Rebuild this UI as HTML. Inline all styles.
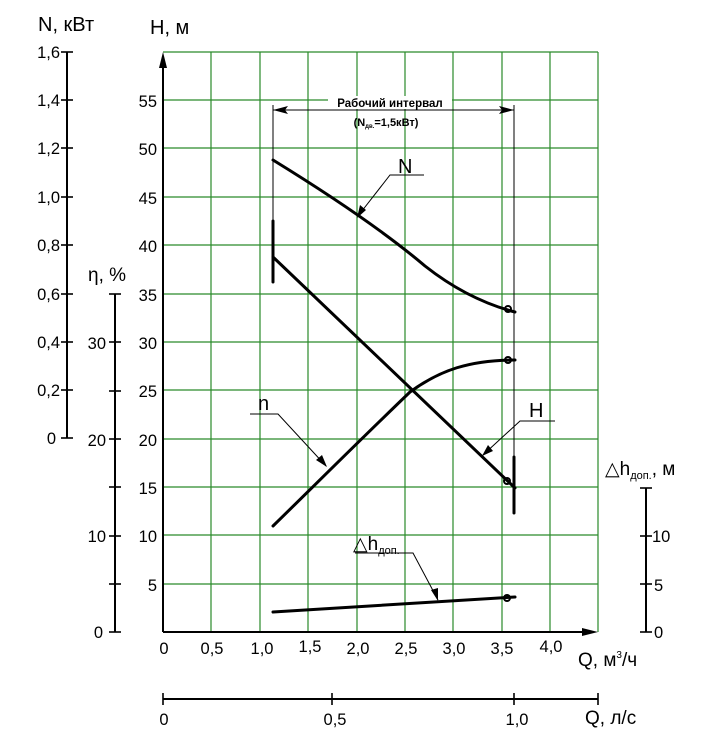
<!DOCTYPE html>
<html><head><meta charset="utf-8"><style>
html,body{margin:0;padding:0;background:#fff;}
svg{display:block;font-family:"Liberation Sans",sans-serif;}
</style></head><body>
<svg width="724" height="751" viewBox="0 0 724 751" xmlns="http://www.w3.org/2000/svg">
<g stroke="#2a8a2a" stroke-width="1.2" fill="none">
<line x1="211" y1="52" x2="211" y2="632"/><line x1="260" y1="52" x2="260" y2="632"/>
<line x1="308" y1="52" x2="308" y2="632"/><line x1="357" y1="52" x2="357" y2="632"/>
<line x1="405" y1="52" x2="405" y2="632"/><line x1="453" y1="52" x2="453" y2="632"/>
<line x1="502" y1="52" x2="502" y2="632"/><line x1="550" y1="52" x2="550" y2="632"/>
<line x1="598" y1="52" x2="598" y2="632"/>
<line x1="163" y1="52" x2="598" y2="52"/><line x1="163" y1="100" x2="598" y2="100"/>
<line x1="163" y1="148" x2="598" y2="148"/><line x1="163" y1="197" x2="598" y2="197"/>
<line x1="163" y1="245" x2="598" y2="245"/><line x1="163" y1="294" x2="598" y2="294"/>
<line x1="163" y1="342" x2="598" y2="342"/><line x1="163" y1="390" x2="598" y2="390"/>
<line x1="163" y1="439" x2="598" y2="439"/><line x1="163" y1="487" x2="598" y2="487"/>
<line x1="163" y1="535" x2="598" y2="535"/><line x1="163" y1="584" x2="598" y2="584"/>
</g>
<g stroke="#000" stroke-width="2" fill="none">
<line x1="163" y1="632" x2="163" y2="60"/>
<line x1="163" y1="632" x2="590" y2="632"/>
<line x1="67" y1="52" x2="67" y2="438"/>
<line x1="115" y1="294" x2="115" y2="632"/>
<line x1="646" y1="488" x2="646" y2="632"/>
<line x1="163" y1="699" x2="598" y2="699"/>
</g>
<path d="M163,52 L159,68 L167,68 Z" fill="#000"/>
<path d="M598,632 L582,628 L582,636 Z" fill="#000"/>
<g stroke="#000" stroke-width="1.6">
<line x1="61" y1="52" x2="73" y2="52"/><line x1="61" y1="100" x2="73" y2="100"/><line x1="61" y1="148" x2="73" y2="148"/>
<line x1="61" y1="197" x2="73" y2="197"/><line x1="61" y1="245" x2="73" y2="245"/><line x1="61" y1="294" x2="73" y2="294"/>
<line x1="61" y1="342" x2="73" y2="342"/><line x1="61" y1="390" x2="73" y2="390"/><line x1="61" y1="438" x2="73" y2="438"/>
<line x1="109" y1="294" x2="121" y2="294"/><line x1="109" y1="342" x2="121" y2="342"/><line x1="109" y1="391" x2="121" y2="391"/>
<line x1="109" y1="439" x2="121" y2="439"/><line x1="109" y1="487" x2="121" y2="487"/><line x1="109" y1="536" x2="121" y2="536"/>
<line x1="109" y1="584" x2="121" y2="584"/><line x1="109" y1="632" x2="121" y2="632"/>
<line x1="640" y1="488" x2="652" y2="488"/><line x1="640" y1="536" x2="652" y2="536"/>
<line x1="640" y1="584" x2="652" y2="584"/><line x1="640" y1="632" x2="652" y2="632"/>
<line x1="163" y1="693" x2="163" y2="705"/><line x1="332" y1="693" x2="332" y2="705"/>
<line x1="514" y1="693" x2="514" y2="705"/><line x1="598" y1="693" x2="598" y2="705"/>
</g>
<g font-size="16.5" fill="#000">
<text x="38" y="31" font-size="20">N, кВт</text>
<text x="150" y="34" font-size="20">H, м</text>
<g text-anchor="end">
<text x="60" y="58">1,6</text><text x="60" y="106">1,4</text><text x="60" y="154">1,2</text>
<text x="60" y="203">1,0</text><text x="60" y="251">0,8</text><text x="60" y="300">0,6</text>
<text x="60" y="348">0,4</text><text x="60" y="396">0,2</text><text x="56" y="444">0</text>
<text x="106" y="349">30</text><text x="106" y="446">20</text><text x="106" y="542">10</text><text x="103" y="638">0</text>
<text x="157" y="107">55</text><text x="157" y="155">50</text><text x="157" y="204">45</text>
<text x="157" y="252">40</text><text x="157" y="301">35</text><text x="157" y="349">30</text>
<text x="157" y="397">25</text><text x="157" y="446">20</text><text x="157" y="494">15</text>
<text x="157" y="542">10</text><text x="157" y="591">5</text>
</g>
<text x="88" y="281" font-size="19">η, %</text>
<text x="652" y="542">10</text><text x="654" y="591">5</text><text x="654" y="638">0</text>
<text x="605" y="475" font-size="19">△h<tspan font-size="11" dy="4">доп.</tspan><tspan dy="-4">, м</tspan></text>
<g text-anchor="middle">
<text x="164" y="654">0</text><text x="212" y="654">0,5</text><text x="262" y="654">1,0</text>
<text x="310" y="652">1,5</text><text x="358" y="654">2,0</text><text x="406" y="654">2,5</text>
<text x="454" y="654">3,0</text><text x="502" y="654">3,5</text><text x="551" y="652">4,0</text>
<text x="164" y="725">0</text><text x="335" y="725">0,5</text><text x="517" y="725">1,0</text>
</g>
<text x="578" y="666" font-size="19">Q, м<tspan font-size="10" dy="-8">3</tspan><tspan dy="8">/ч</tspan></text>
<text x="585" y="724" font-size="19">Q, л/с</text>
</g>
<g stroke="#000" stroke-width="1" fill="none">
<line x1="273" y1="105" x2="273" y2="230"/>
<line x1="514" y1="105" x2="514" y2="460"/>
<line x1="273" y1="110" x2="514" y2="110"/>
</g>
<path d="M273,110 L288,106 L285,110 L288,114 Z" fill="#000"/>
<path d="M514,110 L499,106 L502,110 L499,114 Z" fill="#000"/>
<rect x="328" y="96" width="124" height="13" fill="#fff"/>
<text x="390" y="107" font-size="11.5" font-weight="bold" text-anchor="middle">Рабочий интервал</text>
<text x="386" y="126" font-size="11" font-weight="bold" text-anchor="middle">(N<tspan font-size="6" dy="2">дв.</tspan><tspan dy="-2">=1,5кВт)</tspan></text>
<g stroke="#000" stroke-width="3" fill="none" stroke-linecap="round">
<line x1="273" y1="221" x2="273" y2="282"/>
<line x1="514" y1="457" x2="514" y2="513"/>
<path d="M273,160 C325,192 385,232 425,266 C458,292 488,305 515,312"/>
<line x1="273" y1="257" x2="515" y2="488"/>
<path d="M273,526 C320,480 360,440 410,392 C440,370 470,360 515,360"/>
<line x1="273" y1="612" x2="515" y2="597"/>
</g>
<g fill="none" stroke="#000" stroke-width="2">
<circle cx="508" cy="309" r="3"/><circle cx="508" cy="360" r="3"/>
<circle cx="507" cy="481" r="3"/><circle cx="507" cy="598" r="3"/>
</g>
<g stroke="#000" stroke-width="1" fill="none">
<polyline points="424,175 390,175 358,216"/>
<polyline points="555,421 520,421 483,455"/>
<polyline points="250,414 278,414 326,466"/>
<polyline points="355,553 413,553 438,600"/>
</g>
<path d="M357,218 L360,205 L366,210 Z" fill="#000"/>
<path d="M482,456 L488,445 L493,451 Z" fill="#000"/>
<path d="M327,467 L316,460 L322,455 Z" fill="#000"/>
<path d="M438,601 L431,590 L438,588 Z" fill="#000"/>
<g font-size="20" fill="#000">
<text x="398" y="173">N</text>
<text x="529" y="417">H</text>
<text x="258" y="410">n</text>
<text x="353" y="550" font-size="19">△h<tspan font-size="11" dy="4">доп.</tspan></text>
</g>
</svg>
</body></html>
